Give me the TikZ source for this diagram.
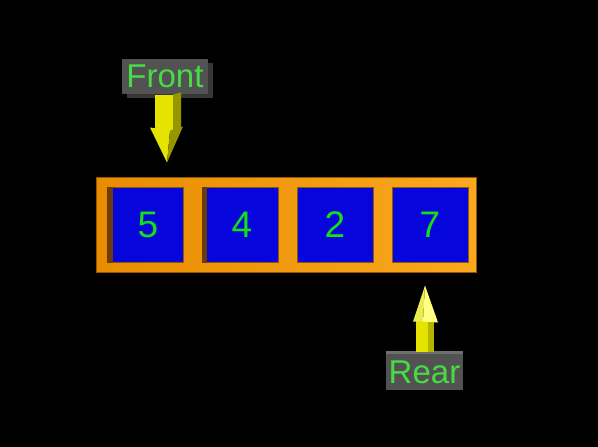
\documentclass[tikz,border=0pt]{standalone}
\usepackage{fontspec}
\setmainfont{Liberation Sans}
\usetikzlibrary{calc}
\definecolor{qorange}{RGB}{232,140,0}
\definecolor{qorangeL}{RGB}{250,168,30}
\definecolor{qedge}{RGB}{150,85,0}
\definecolor{qshadow}{RGB}{105,60,10}
\definecolor{qblue}{RGB}{5,5,220}
\definecolor{qgreen}{RGB}{20,225,20}
\definecolor{lgreen}{RGB}{70,220,70}
\definecolor{lgray}{RGB}{82,82,82}
\definecolor{lgrayD}{RGB}{55,55,55}
\definecolor{lgrayL}{RGB}{110,110,110}
\definecolor{ylw}{RGB}{228,228,0}
\definecolor{ylwD}{RGB}{150,150,0}
\definecolor{ylwP}{RGB}{255,255,130}
\definecolor{ylwM}{RGB}{235,235,80}
\begin{document}
\begin{tikzpicture}[x=1pt,y=-1pt,
  bar/.style={minimum width=380pt,minimum height=95pt,inner sep=0pt,
    left color=qorange,right color=qorangeL,draw=qedge,line width=0.6pt},
  cell/.style={minimum width=76pt,minimum height=75pt,inner sep=0pt,
    fill=qblue,draw=qedge,line width=1pt},
  digit/.style={text=qgreen,font=\fontsize{37}{37}\selectfont},
  label/.style={fill=lgray,minimum width=86pt,minimum height=35pt,inner sep=0pt,
    text=lgreen,font=\fontsize{33}{33}\selectfont}]
\fill[black] (0,0) rectangle (598,447);
\useasboundingbox (0,0) rectangle (598,447);
% queue bar
\node[bar] (queue) at (286.5,224.5) {};
% cells
\node[cell] (c1) at (145,224.5) {};
\node[cell] (c2) at (240,224.5) {};
\node[cell] (c3) at (335,224.5) {};
\node[cell] (c4) at (430,224.5) {};
\fill[qshadow] (c1.north west) rectangle ($(c1.south west)+(6,0)$);
\fill[qshadow] (c2.north west) rectangle ($(c2.south west)+(5,0)$);
\node[digit] (d1) at ($(c1.center)+(3,0)$) {5};
\node[digit] (d2) at ($(c2.center)+(2,0)$) {4};
\node[digit] (d3) at (c3.center) {2};
\node[digit] (d4) at (c4.center) {7};
% Front label
\fill[lgrayD] (122,59) ++(5,4) rectangle ++(86,35);
\node[label] (front) at (165,76.5) {Front};
% Front arrow
\coordinate (ftip) at ($(c1.north)+(22,-24)$);
\fill[ylw] ($(ftip)+(-12,-68)$) rectangle ($(ftip)+(6,-32)$);
\fill[ylwD] ($(ftip)+(6,-68)$) -- ($(ftip)+(14,-70)$) -- ($(ftip)+(14,-34)$) -- ($(ftip)+(6,-32)$) -- cycle;
\fill[ylw] ($(ftip)+(-17,-35)$) -- ($(ftip)+(3,-32)$) -- (ftip) -- cycle;
\fill[ylwD] ($(ftip)+(3,-32)$) -- ($(ftip)+(16,-36)$) -- (ftip) -- cycle;
% Rear label
\fill[lgrayL] (386,351) rectangle (463,356);
\node[label,minimum width=77pt,minimum height=36pt] (rear) at (424.5,372) {Rear};
% Rear arrow
\coordinate (rtip) at ($(c4.south)+(-5,23)$);
\fill[ylw] ($(rtip)+(-9,34)$) rectangle ($(rtip)+(9,66)$);
\fill[ylwD!60!ylw] ($(rtip)+(3,34)$) rectangle ($(rtip)+(9,66)$);
\fill[ylwM] (rtip) -- ($(rtip)+(-12,36)$) -- ($(rtip)+(-2,36)$) -- cycle;
\fill[ylwP] (rtip) -- ($(rtip)+(-2,36)$) -- ($(rtip)+(13,37)$) -- cycle;
\end{tikzpicture}
\end{document}
